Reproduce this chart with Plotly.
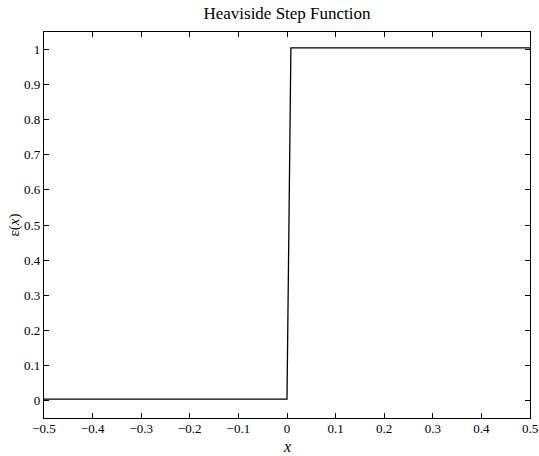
import plotly.graph_objects as go

# Step function samples
x_vals = [-0.5, 0.0, 0.008, 0.5]
y_vals = [0.004, 0.004, 1.005, 1.005]

x_ticks = [-0.5, -0.4, -0.3, -0.2, -0.1, 0, 0.1, 0.2, 0.3, 0.4, 0.5]
x_ticklabels = ["\u22120.5", "\u22120.4", "\u22120.3", "\u22120.2", "\u22120.1", "0", "0.1", "0.2", "0.3", "0.4", "0.5"]
y_ticks = [0, 0.1, 0.2, 0.3, 0.4, 0.5, 0.6, 0.7, 0.8, 0.9, 1]
y_ticklabels = ["0", "0.1", "0.2", "0.3", "0.4", "0.5", "0.6", "0.7", "0.8", "0.9", "1"]

font_family = "Liberation Serif, Times New Roman, serif"

fig = go.Figure()
fig.add_trace(go.Scatter(x=x_vals, y=y_vals, mode="lines",
                         line=dict(color="black", width=1.3), showlegend=False))

axis_common = dict(showline=True, linecolor="black", linewidth=1.2, mirror="allticks",
                   ticks="inside", ticklen=5, tickcolor="black", tickwidth=1,
                   showgrid=False, zeroline=False, automargin=False,
                   tickfont=dict(family=font_family, size=13, color="black"))

fig.update_xaxes(range=[-0.5, 0.5], tickvals=x_ticks, ticktext=x_ticklabels,
                 ticklabelstandoff=-2, **axis_common)
fig.update_yaxes(range=[-0.05, 1.05], tickvals=y_ticks, ticktext=y_ticklabels,
                 title=dict(text="\u03b5(<i>x</i>)", font=dict(family=font_family, size=15, color="black"), standoff=0),
                 **axis_common)

fig.add_annotation(text="<i>x</i>", x=0.5, xref="paper", y=-0.073, yref="paper",
                   yanchor="middle", showarrow=False,
                   font=dict(family=font_family, size=16, color="black"))

fig.update_layout(
    width=539, height=456,
    margin=dict(l=44, r=9, t=32, b=38),
    paper_bgcolor="white", plot_bgcolor="white",
    title=dict(text="Heaviside Step Function", x=0.5, xref="paper", y=0.972, yanchor="middle",
               font=dict(family=font_family, size=17, color="black")),
)

fig.write_html("out.html")
